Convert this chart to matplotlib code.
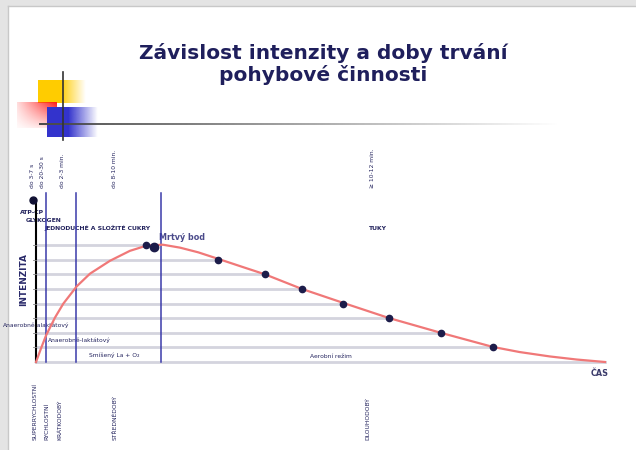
import matplotlib.pyplot as plt
import numpy as np

# curve of intensity over time (time 0..100, intensity in grid levels 0..8)
curve_t = [0, 0.9, 1.76, 3.34, 4.8, 7.15, 9.49, 13.0, 16.5, 19.46, 22.3, 25.3,
           28.5, 31.8, 35.9, 40.2, 46.7, 54.0, 62.0, 71.2, 80.3, 85.0, 90.3, 95.0, 100]
curve_i = [0, 0.95, 1.81, 3.04, 3.99, 5.17, 6.04, 6.92, 7.6, 7.96, 8.02, 7.82,
           7.5, 7.08, 6.55, 6.0, 5.0, 4.04, 3.01, 1.99, 1.03, 0.68, 0.38, 0.17, 0]

# marked points on the curve
dot_t = [19.3, 32.0, 40.2, 46.7, 54.0, 62.0, 71.2, 80.3]
dot_i = [8, 7, 6, 5, 4, 3, 2, 1]
dead_point = (20.7, 7.88)   # "Mrtvý bod"

# phase boundaries
phase_t = [1.76, 7.0, 22.0]
phase_top = 11.57

duration_labels = ["do 3-7 s", "do 20-30 s", "do 2-3 min.", "do 8-10 min.", "≥ 10-12 min."]
activity_labels = ["SUPERRYCHLOSTNÍ", "RYCHLOSTNÍ", "KRÁTKODOBÝ", "STŘEDNĚDOBÝ", "DLOUHODOBÝ"]
zone_labels = ["Anaerobně-alaktátový", "Anaerobně-laktátový", "Smíšený La + O₂", "Aerobní režim"]
source_labels = ["ATP-CP", "GLYKOGEN", "JEDNODUCHÉ A SLOŽITÉ CUKRY", "TUKY"]

navy = "#24245e"
W, H = 636, 450

fig = plt.figure(figsize=(6.36, 4.5), dpi=100)

# overlay in pixel coordinates for decorations and text
bg = fig.add_axes([0, 0, 1, 1])
bg.set_xlim(0, W)
bg.set_ylim(H, 0)
bg.axis("off")

# slide frame
bg.add_patch(plt.Rectangle((0, 0), 8, H, color="#e4e4e4", lw=0))
bg.add_patch(plt.Rectangle((0, 0), W, 6, color="#e4e4e4", lw=0))
bg.plot([8, 8], [6, H], color="#c8c8c8", lw=1)
bg.plot([8, W], [6, 6], color="#c8c8c8", lw=1)

# logo squares with fading gradients
def grad(rgb, fade_dir):
    n = 64
    img = np.ones((n, n, 4))
    img[..., :3] = rgb
    if fade_dir == "right":
        img[..., 3] = np.tile(np.linspace(1, 0, n), (n, 1))
    else:
        img[..., 3] = np.outer(np.linspace(1, 0.15, n), np.linspace(0.15, 1, n))
    return img

bg.imshow(grad((1.0, 0.8, 0.0), "right"), extent=(60, 86, 103, 80), zorder=2)
bg.add_patch(plt.Rectangle((38, 80), 23, 23, color="#ffcc00", lw=0, zorder=2))
bg.imshow(grad((1.0, 0.1, 0.1), "diag"), extent=(17, 57, 128, 102), zorder=3)
bg.imshow(grad((0.2, 0.2, 0.8), "right"), extent=(68, 98, 137, 107), zorder=3)
bg.add_patch(plt.Rectangle((47, 107), 22, 30, color="#3333cc", lw=0, zorder=3))
line_img = np.ones((1, 200, 4))
line_img[..., :3] = 0.3
line_img[..., 3] = np.linspace(1, 0, 200)
bg.imshow(line_img, extent=(39, 560, 124.8, 123.2), zorder=4, aspect="auto")
bg.plot([63, 63], [72, 140], color="#333333", lw=1.2, zorder=4)
bg.set_xlim(0, W)
bg.set_ylim(H, 0)

# title
bg.text(323, 64, "Závislost intenzity a doby trvání\npohybové činnosti", ha="center",
        va="center", fontsize=14.5, fontweight="bold", color="#1f1f5c", linespacing=1.1)

# chart axes: time 0..100 maps to 36..605 px, intensity 0..8 maps to 362..245 px
ax = fig.add_axes([36 / W, (H - 362) / H, 569 / W, 117 / H])
ax.set_xlim(0, 100)
ax.set_ylim(0, 8)
ax.axis("off")

# level lines ending at the curve
ax.plot([0, 100], [0, 0], color="#d4d4de", lw=2, clip_on=False, zorder=1)
for t, lv in zip(dot_t, dot_i):
    ax.plot([0, t], [lv, lv], color="#d4d4de", lw=2, clip_on=False, zorder=1)

for t in phase_t:
    ax.plot([t, t], [0, phase_top], color="#3a3aaa", lw=1.1, clip_on=False, zorder=2)
ax.plot([0, 0], [0, 11.1], color="black", lw=1.5, clip_on=False, zorder=3)
ax.plot([-0.5], [11.1], "o", color="#111133", ms=5, clip_on=False, zorder=3)
for lv in range(1, 9):
    ax.plot([-0.6, 0], [lv, lv], color="#888888", lw=0.6, clip_on=False, zorder=3)

ax.plot(curve_t, curve_i, color="#f07878", lw=1.6, clip_on=False, zorder=4,
        solid_joinstyle="round")
ax.plot(dot_t, dot_i, "o", color="#1c1c4a", ms=4.5, clip_on=False, zorder=5)
ax.plot(*dead_point, "o", color="#1c1c4a", ms=6, clip_on=False, zorder=5)

# text labels (pixel coordinates)
small = dict(color=navy, fontsize=4.3)
for x, s in zip([33, 43, 62, 115, 372], duration_labels):
    bg.text(x, 188, s, rotation=90, ha="center", va="bottom", **small)
for x, s in zip([35, 47, 60, 115, 368], activity_labels):
    bg.text(x, 440, s, rotation=90, ha="center", va="bottom", **small)

src_pos = [(20, 212), (26, 220), (44, 228), (369, 229)]
for (x, y), s in zip(src_pos, source_labels):
    bg.text(x, y, s, ha="left", va="center", color=navy, fontsize=4.4, fontweight="bold")

zone_pos = [(3, 325), (48, 340), (89, 355), (310, 356)]
for (x, y), s in zip(zone_pos, zone_labels):
    bg.text(x, y, s, ha="left", va="center", **small)

bg.text(159, 238, "Mrtvý bod", ha="left", va="center", color="#4a4a8a",
        fontsize=5.8, fontweight="bold")
bg.text(24, 280, "INTENZITA", rotation=90, ha="center", va="center", color="#2a2a6a",
        fontsize=6.4, fontweight="bold")
bg.text(600, 373, "ČAS", ha="center", va="center", color="#3a3a6a",
        fontsize=5.8, fontweight="bold")

fig.savefig("out.png", dpi=100)
